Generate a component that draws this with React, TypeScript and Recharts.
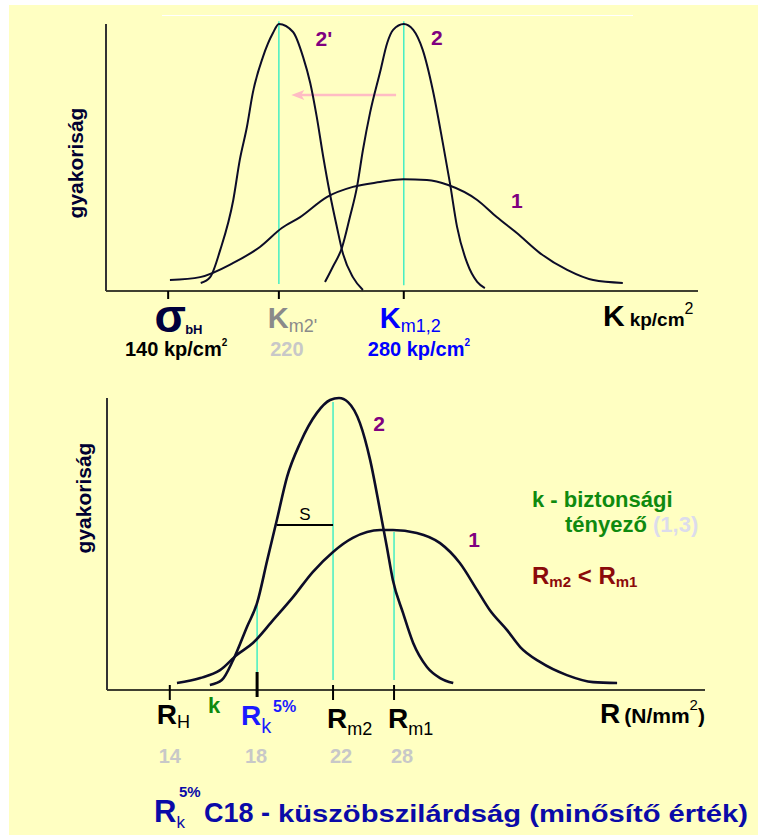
import React from "react"
import { Line, LineChart, ReferenceDot, ReferenceLine, XAxis, YAxis } from "recharts"

const FONT = "'Liberation Sans', Arial, sans-serif"
const BG = "#ffffc2"
const CYAN = "#44eec4"
const PURPLE = "#800080"
const CURVE = "#0c0c28"

// positions are schematic (0 = origin, 100 = end of the axis), frequency in % of the tallest peak

// upper chart: K (kp/cm2)
const kCurve1Pos = [10.8, 15.9, 21.5, 26.0, 29.7, 32.8, 37.3, 41.7, 46.3, 50.2, 54.2, 57.8, 62.7, 66.0, 69.4, 73.3, 77.9, 82.3, 87.3]
const kCurve1Freq = [4.1, 5.2, 10.5, 16.5, 23.6, 27.7, 35.2, 39.0, 40.8, 41.9, 41.6, 39.7, 34.1, 27.7, 21.7, 14.2, 7.9, 4.1, 3.0]

const kCurve2Pos = [37.0, 38.3, 39.9, 41.2, 42.4, 43.4, 44.6, 46.3, 47.5, 48.5, 50.3, 51.9, 53.5, 55.2, 56.9, 58.1, 59.3, 61.0, 62.7, 64.0]
const kCurve2Freq = [3.4, 9.0, 16.5, 27.7, 39.0, 52.8, 66.7, 82.0, 92.9, 97.8, 100, 97.8, 90.3, 75.3, 55.4, 40.4, 24.0, 10.5, 3.4, 1.1]

const kCurve2sPos = [16.0, 17.6, 19.3, 21.5, 22.6, 23.8, 24.8, 26.5, 28.2, 29.2, 31.6, 33.3, 34.5, 35.6, 36.7, 37.8, 39.0, 40.0, 41.7, 43.4]
const kCurve2sFreq = [3.0, 5.2, 15.4, 34.1, 49.1, 61.4, 74.2, 87.6, 96.6, 100, 97.0, 87.6, 77.9, 65.2, 50.2, 36.7, 24.0, 14.2, 5.2, 0.4]

const kTickPos = [10.5, 29.2, 50.3]
const kTickValues = [140, 220, 280]

// lower chart: R (N/mm2)
const rCurve1Pos = [11.7, 15.6, 18.9, 21.7, 24.4, 27.8, 31.1, 34.4, 37.8, 41.1, 45.7, 47.8, 51.8, 55.7, 59.0, 61.9, 64.0, 66.9, 69.1, 72.4, 76.9, 81.3, 85.3]
const rCurve1Freq = [2.4, 4.1, 6.8, 12.0, 16.1, 24.0, 31.8, 40.4, 47.3, 52.1, 54.8, 54.8, 53.8, 50.3, 43.5, 34.2, 27.4, 20.5, 14.7, 9.6, 5.1, 2.7, 2.4]

const rCurve2Pos = [17.2, 19.2, 21.1, 23.4, 25.1, 26.8, 28.4, 30.1, 32.3, 35.1, 37.3, 38.8, 40.3, 42.3, 44.0, 45.7, 46.8, 47.8, 49.5, 51.2, 53.5, 55.7, 57.9]
const rCurve2Freq = [1.7, 3.4, 10.3, 21.6, 29.8, 44.5, 58.2, 72.9, 84.6, 94.9, 99.3, 100, 98.6, 91.4, 78.8, 61.0, 49.0, 37.7, 26.4, 16.1, 7.9, 4.1, 2.4]

const rTickPos = [10.5, 17.9, 25.1, 37.8, 48.0]
const rTickValues = ["14", "", "18", "22", "28"]

const zip = (xs: number[], ys: number[]) => xs.map((x, i) => ({ x, y: ys[i] }))

const PinkArrow = (p: any) => {
  const { x1, y1, x2, y2 } = p
  return (
    <g>
      <line x1={x1} y1={y1} x2={x2 + 8} y2={y2} stroke="#ffbcc4" strokeWidth={2.6} />
      <path d={`M${x2},${y2} L${x2 + 13},${y2 - 5} L${x2 + 10},${y2} L${x2 + 13},${y2 + 5} Z`} fill="#ffbcc4" />
    </g>
  )
}

const KTick = (props: any) => {
  const { x, y, index } = props
  const mark = <line x1={x} y1={y} x2={x} y2={y + 8} stroke="#000" strokeWidth={2} />
  const value = kTickValues[index]
  if (index === 0) {
    return (
      <g fontFamily={FONT}>
        {mark}
        <text x={x + 2} y={y + 41} textAnchor="middle" fontSize={46} fontWeight="bold" fill="#00003c">σ</text>
        <text x={x + 17} y={y + 43} fontSize={13} fontWeight="bold" fill="#00003c">bH</text>
        <text x={x + 8} y={y + 65} textAnchor="middle" fontSize={20} fontWeight="bold" fill="#000">
          {value} kp/cm<tspan fontSize={10} dy={-10}>2</tspan>
        </text>
      </g>
    )
  }
  if (index === 1) {
    return (
      <g fontFamily={FONT}>
        {mark}
        <text x={x - 11} y={y + 37} fill="#8a8a8a">
          <tspan fontSize={29} fontWeight="bold">K</tspan>
          <tspan fontSize={18} dy={4}>m2'</tspan>
        </text>
        <text x={x + 8} y={y + 65} textAnchor="middle" fontSize={20} fontWeight="bold" fill="#c8c8c8">{value}</text>
      </g>
    )
  }
  return (
    <g fontFamily={FONT}>
      {mark}
      <text x={x - 24} y={y + 37} fill="#0000ff">
        <tspan fontSize={29} fontWeight="bold">K</tspan>
        <tspan fontSize={18} dy={4}>m1,2</tspan>
      </text>
      <text x={x - 36} y={y + 65} fontSize={20} fontWeight="bold" fill="#0000ff">
        {value} kp/cm<tspan fontSize={10} dy={-10}>2</tspan>
      </text>
    </g>
  )
}

const rNumDx = [0, 0, -1, 8, 8]

const RTick = (props: any) => {
  const { x, y, index } = props
  const num = rTickValues[index] ? (
    <text x={x + rNumDx[index]} y={y + 73} textAnchor="middle" fontSize={20} fontWeight="bold" fill="#c8c8c8">
      {rTickValues[index]}
    </text>
  ) : null
  const mark = <line x1={x} y1={y - 5} x2={x} y2={y + 10} stroke="#000" strokeWidth={2} />
  if (index === 0) {
    return (
      <g fontFamily={FONT}>
        {mark}
        <text x={x - 13} y={y + 34} fill="#000">
          <tspan fontSize={28} fontWeight="bold">R</tspan>
          <tspan fontSize={18} dy={4}>H</tspan>
        </text>
        {num}
      </g>
    )
  }
  if (index === 1) {
    return (
      <text x={x} y={y + 23} textAnchor="middle" fontFamily={FONT} fontSize={22} fontWeight="bold" fill="#0f8a0f">k</text>
    )
  }
  if (index === 2) {
    return (
      <g fontFamily={FONT}>
        <line x1={x} y1={y - 18} x2={x} y2={y + 7} stroke="#000" strokeWidth={3} />
        <text x={x - 16} y={y + 35} fill="#1a1aff">
          <tspan fontSize={28} fontWeight="bold">R</tspan>
          <tspan fontSize={20} dy={8}>k</tspan>
        </text>
        <text x={x + 16} y={y + 22} fontSize={16} fontWeight="bold" fill="#1a1aff">5%</text>
        {num}
      </g>
    )
  }
  return (
    <g fontFamily={FONT}>
      {mark}
      <text x={x - 6} y={y + 38} fill="#000">
        <tspan fontSize={28} fontWeight="bold">R</tspan>
        <tspan fontSize={18} dy={7}>{index === 3 ? "m2" : "m1"}</tspan>
      </text>
      {num}
    </g>
  )
}

const curveLabel = (text: string) => ({
  value: text,
  fill: PURPLE,
  fontSize: 21,
  fontWeight: "bold",
  fontFamily: FONT,
})

function KChart() {
  return (
    <LineChart width={758} height={380} margin={{ top: 24, right: 60, bottom: 29, left: 46 }}>
      <XAxis
        dataKey="x"
        type="number"
        domain={[0, 100]}
        ticks={kTickPos}
        interval={0}
        height={60}
        tickSize={0}
        tickMargin={0}
        tickLine={false}
        tick={KTick}
        axisLine={{ stroke: "#000", strokeWidth: 1.6 }}
      />
      <YAxis
        type="number"
        domain={[0, 100]}
        width={60}
        tick={false}
        tickLine={false}
        axisLine={{ stroke: "#333", strokeWidth: 2 }}
      />
      <ReferenceLine segment={[{ x: 29.2, y: 2.6 }, { x: 29.2, y: 101 }]} stroke={CYAN} strokeWidth={1.5} ifOverflow="visible" />
      <ReferenceLine segment={[{ x: 50.3, y: 2.2 }, { x: 50.3, y: 101 }]} stroke={CYAN} strokeWidth={1.5} ifOverflow="visible" />
      <ReferenceLine segment={[{ x: 49.0, y: 73.4 }, { x: 31.3, y: 73.4 }]} shape={PinkArrow} ifOverflow="visible" />
      <Line data={zip(kCurve1Pos, kCurve1Freq)} dataKey="y" type="monotone" stroke={CURVE} strokeWidth={2} dot={false} isAnimationActive={false} />
      <Line data={zip(kCurve2Pos, kCurve2Freq)} dataKey="y" type="monotone" stroke={CURVE} strokeWidth={2} dot={false} isAnimationActive={false} />
      <Line data={zip(kCurve2sPos, kCurve2sFreq)} dataKey="y" type="monotone" stroke={CURVE} strokeWidth={2} dot={false} isAnimationActive={false} />
      <ReferenceDot x={36.8} y={94.4} r={0} fill="none" stroke="none" ifOverflow="visible" label={curveLabel("2'")} />
      <ReferenceDot x={55.9} y={95.1} r={0} fill="none" stroke="none" ifOverflow="visible" label={curveLabel("2")} />
      <ReferenceDot x={69.4} y={33.7} r={0} fill="none" stroke="none" ifOverflow="visible" label={curveLabel("1")} />
    </LineChart>
  )
}

function RChart() {
  return (
    <LineChart width={758} height={400} margin={{ top: 18, right: 53, bottom: 30, left: 47 }}>
      <XAxis
        dataKey="x"
        type="number"
        domain={[0, 100]}
        ticks={rTickPos}
        interval={0}
        height={60}
        tickSize={0}
        tickMargin={0}
        tickLine={false}
        tick={RTick}
        axisLine={{ stroke: "#000", strokeWidth: 1.6 }}
      />
      <YAxis
        type="number"
        domain={[0, 100]}
        width={60}
        tick={false}
        tickLine={false}
        axisLine={{ stroke: "#333", strokeWidth: 2 }}
      />
      <ReferenceLine segment={[{ x: 37.8, y: 3.4 }, { x: 37.8, y: 98.6 }]} stroke={CYAN} strokeWidth={1.5} ifOverflow="visible" />
      <ReferenceLine segment={[{ x: 25.1, y: 6.2 }, { x: 25.1, y: 29.8 }]} stroke={CYAN} strokeWidth={1.5} ifOverflow="visible" />
      <ReferenceLine segment={[{ x: 48.0, y: 3.4 }, { x: 48.0, y: 54.1 }]} stroke={CYAN} strokeWidth={1.5} ifOverflow="visible" />
      <ReferenceLine
        segment={[{ x: 28.4, y: 56.5 }, { x: 37.8, y: 56.5 }]}
        stroke="#000"
        strokeWidth={2}
        ifOverflow="visible"
        label={{ value: "S", position: "top", fill: "#000", fontSize: 17, fontFamily: FONT }}
      />
      <Line data={zip(rCurve1Pos, rCurve1Freq)} dataKey="y" type="monotone" stroke={CURVE} strokeWidth={2.6} dot={false} isAnimationActive={false} />
      <Line data={zip(rCurve2Pos, rCurve2Freq)} dataKey="y" type="monotone" stroke={CURVE} strokeWidth={2.6} dot={false} isAnimationActive={false} />
      <ReferenceDot x={45.5} y={91.4} r={0} fill="none" stroke="none" ifOverflow="visible" label={curveLabel("2")} />
      <ReferenceDot x={61.4} y={51.4} r={0} fill="none" stroke="none" ifOverflow="visible" label={curveLabel("1")} />
    </LineChart>
  )
}

export default function App() {
  return (
    <div style={{ position: "absolute", left: 0, top: 0, width: 758, height: 835, background: "#fff", overflow: "hidden", fontFamily: FONT }}>
      <div style={{ position: "absolute", left: 9, top: 5, right: 0, bottom: 0, background: BG }} />
      <div style={{ position: "absolute", left: 0, top: 0 }}>
        <KChart />
      </div>
      <div style={{ position: "absolute", left: 0, top: 380 }}>
        <RChart />
      </div>
      <svg width={758} height={835} style={{ position: "absolute", left: 0, top: 0, pointerEvents: "none" }} fontFamily={FONT}>
        <line x1={162} y1={15.5} x2={633} y2={15.5} stroke="#fff" strokeWidth={1} />
        <text transform="translate(83,163) rotate(-90)" textAnchor="middle" fontSize={21} fontWeight="bold" fill="#000033">gyakoriság</text>
        <text transform="translate(91,498) rotate(-90)" textAnchor="middle" fontSize={21} fontWeight="bold" fill="#000033">gyakoriság</text>

        <text x={603} y={326} fill="#000" fontWeight="bold">
          <tspan fontSize={30}>K</tspan>
          <tspan fontSize={19} dx={5}>kp/cm</tspan>
          <tspan fontSize={16} fontWeight="normal" dy={-12}>2</tspan>
        </text>

        <text x={600} y={723} fill="#000" fontWeight="bold">
          <tspan fontSize={28}>R</tspan>
          <tspan fontSize={21} dx={4}>(N/mm</tspan>
          <tspan fontSize={15} fontWeight="normal" dy={-13}>2</tspan>
          <tspan fontSize={21} dy={13}>)</tspan>
        </text>

        <text x={532} y={507} fontSize={22} fontWeight="bold" fill="#0f8a0f">k - biztonsági</text>
        <text x={565} y={532} fontSize={22} fontWeight="bold" fill="#0f8a0f">
          tényező<tspan fill="#dcdcec"> (1,3)</tspan>
        </text>
        <text x={532} y={584} fill="#8b0a0a" fontWeight="bold">
          <tspan fontSize={24}>R</tspan>
          <tspan fontSize={15} dy={3}>m2</tspan>
          <tspan fontSize={24} dy={-3}> &lt; R</tspan>
          <tspan fontSize={15} dy={3}>m1</tspan>
        </text>

        <text x={154} y={822} fill="#0a0aa8" fontWeight="bold">
          <tspan fontSize={31}>R</tspan>
          <tspan fontSize={17} fontWeight="normal" dy={6}>k</tspan>
        </text>
        <text x={179} y={797} fontSize={15} fontWeight="bold" fill="#0a0aa8">5%</text>
        <text x={204} y={822} fontSize={27} fontWeight="bold" fill="#0a0aa8">C18 -</text>
        <text x={278} y={822} fontSize={24} fontWeight="bold" fill="#0a0aa8" textLength={470} lengthAdjust="spacingAndGlyphs">
          küszöbszilárdság (minősítő érték)
        </text>
      </svg>
    </div>
  )
}
